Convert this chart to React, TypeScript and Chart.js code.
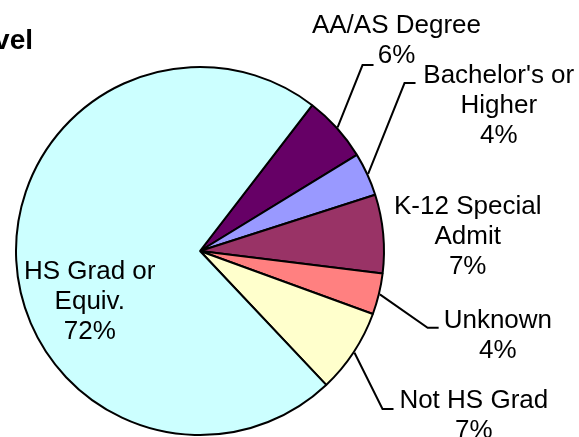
import React, { useEffect, useRef } from "react";
import { Chart, registerables } from "chart.js";

Chart.register(...registerables);

const categories = [
  "AA/AS Degree",
  "Bachelor's or\nHigher",
  "K-12 Special\nAdmit",
  "Unknown",
  "Not HS Grad",
  "HS Grad or\nEquiv.",
];
const values = [5.8, 3.8, 6.9, 3.6, 7.4, 72.4];
const colors = ["#660066", "#9999FF", "#993366", "#FF8080", "#FFFFCC", "#CCFFFF"];
const title = "Education Level";

// label layout, in units of the pie radius relative to the pie centre
// (centre x of the text block, baseline of its first line)
const labelAt: [number, number][] = [
  [1.062, -1.179],
  [1.615, -0.908],
  [1.447, -0.198],
  [1.61, 0.415],
  [1.48, 0.848],
  [-0.596, 0.149],
];
// end of each leader line (null = no leader)
const leaderEnd: ([number, number] | null)[] = [
  [0.938, -1.005],
  [1.165, -0.908],
  null,
  [1.29, 0.415],
  [1.046, 0.854],
  null,
];

const FONT = "Arial, 'Liberation Sans', sans-serif";

const labelPlugin = {
  id: "pieLabels",
  afterDatasetsDraw(chart: any) {
    const ctx = chart.ctx as CanvasRenderingContext2D;
    const meta = chart.getDatasetMeta(0);
    const total = values.reduce((a, b) => a + b, 0);
    ctx.save();
    // title
    ctx.fillStyle = "#000";
    ctx.font = `bold 28px ${FONT}`;
    ctx.textAlign = "right";
    ctx.textBaseline = "alphabetic";
    ctx.fillText(title, 33, 49);

    meta.data.forEach((arc: any, i: number) => {
      const { x, y, startAngle, endAngle, outerRadius } = arc.getProps(
        ["x", "y", "startAngle", "endAngle", "outerRadius"],
        true
      );
      const r = outerRadius + 1;
      const mid = (startAngle + endAngle) / 2;
      const le = leaderEnd[i];
      if (le) {
        const sx = x + Math.cos(mid) * r;
        const sy = y + Math.sin(mid) * r;
        const ex = x + le[0] * r;
        const ey = y + le[1] * r;
        ctx.beginPath();
        ctx.strokeStyle = "#000";
        ctx.lineWidth = 2;
        ctx.moveTo(sx, sy);
        ctx.lineTo(ex - 11, ey);
        ctx.lineTo(ex, ey);
        ctx.stroke();
      }
      const pct = Math.round((values[i] / total) * 100) + "%";
      const lines = categories[i].split("\n").concat([pct]);
      const lx = x + labelAt[i][0] * r;
      const ly = y + labelAt[i][1] * r;
      ctx.font = `26px ${FONT}`;
      ctx.textAlign = "center";
      ctx.fillStyle = "#000";
      lines.forEach((t, k) => ctx.fillText(t, lx, ly + k * 30));
    });
    ctx.restore();
  },
};

export default function App() {
  const ref = useRef<HTMLCanvasElement | null>(null);
  useEffect(() => {
    if (!ref.current) return;
    const chart = new Chart(ref.current, {
      type: "pie",
      data: {
        labels: categories,
        datasets: [
          {
            data: values,
            backgroundColor: colors,
            borderColor: "#000",
            borderWidth: 2,
            borderAlign: "center",
          },
        ],
      },
      options: {
        animation: false,
        responsive: true,
        maintainAspectRatio: false,
        rotation: 37.6,
        layout: { padding: { left: 15, top: 66, right: 194, bottom: 1 } },
        plugins: {
          legend: { display: false },
          tooltip: { enabled: false },
          title: { display: false },
        },
      },
      plugins: [labelPlugin],
    });
    return () => chart.destroy();
  }, []);
  return (
    <div style={{ position: "absolute", left: 0, top: 0, width: 579, height: 437, background: "#fff" }}>
      <canvas ref={ref} />
    </div>
  );
}
